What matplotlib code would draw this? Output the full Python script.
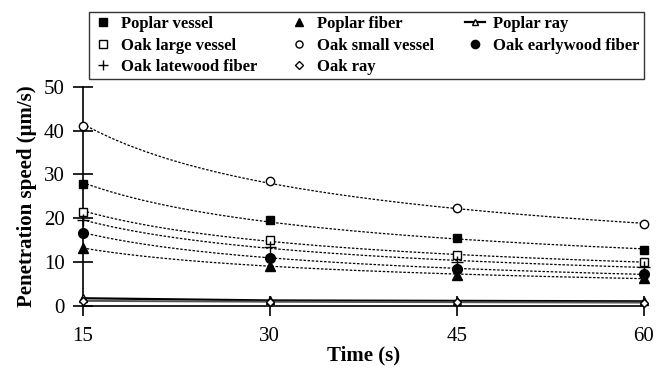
import matplotlib.pyplot as plt
import numpy as np
from matplotlib.lines import Line2D

plt.rcParams["font.family"] = ["Liberation Serif", "DejaVu Serif"]

time_s = np.array([15, 30, 45, 60])

poplar_vessel = [27.7, 19.6, 15.4, 12.7]
poplar_fiber = [13.2, 9.1, 7.0, 6.3]
poplar_ray = [1.7, 1.2, 1.1, 1.0]
oak_large_vessel = [21.5, 15.0, 11.6, 9.9]
oak_small_vessel = [41.1, 28.5, 22.2, 18.6]
oak_early_fiber = [16.7, 11.0, 8.4, 7.2]
oak_late_fiber = [19.6, 13.3, 10.0, 8.9]
oak_ray = [1.1, 0.9, 0.8, 0.7]

fig = plt.figure(figsize=(6.59, 3.78), dpi=100)
ax = fig.add_axes([0.1255, 0.1913, 0.8517, 0.5793])

# (label, values, marker, face, size)
series = [
    ("Poplar vessel", poplar_vessel, "s", "black", 6),
    ("Poplar fiber", poplar_fiber, "^", "black", 6.5),
    ("Oak large vessel", oak_large_vessel, "s", "white", 6),
    ("Oak small vessel", oak_small_vessel, "o", "white", 6),
    ("Oak earlywood fiber", oak_early_fiber, "o", "black", 7),
    ("Oak latewood fiber", oak_late_fiber, "+", "black", 9),
]

# power trend lines like a spreadsheet would draw
t_fine = np.linspace(15, 60, 200)
for label, vals, mk, fc, ms in series:
    b, loga = np.polyfit(np.log(time_s), np.log(vals), 1)
    ax.plot(t_fine, np.exp(loga) * t_fine ** b, color="black",
            linestyle=(0, (2, 1.3)), linewidth=0.9, zorder=2)

handles = {}
for label, vals, mk, fc, ms in series:
    (h,) = ax.plot(time_s, vals, linestyle="none", marker=mk, markersize=ms,
                   markerfacecolor=fc, markeredgecolor="black",
                   markeredgewidth=1.0, clip_on=False, zorder=4)
    handles[label] = h

(h,) = ax.plot(time_s, poplar_ray, color="black", linewidth=1.6, marker="^",
               markersize=5.5, markerfacecolor="white", markeredgecolor="black",
               clip_on=False, zorder=3)
handles["Poplar ray"] = h
ax.plot(time_s, oak_ray, color="#555555", linewidth=1.4, marker="D",
        markersize=4.5, markerfacecolor="white", markeredgecolor="black",
        clip_on=False, zorder=3)
handles["Oak ray"] = Line2D([], [], linestyle="none", marker="D", markersize=4.5,
                            markerfacecolor="white", markeredgecolor="black")

ax.set_xlim(15, 60)
ax.set_ylim(0, 50)
ax.set_xticks([15, 30, 45, 60])
ax.set_yticks([0, 10, 20, 30, 40, 50])
ax.spines["top"].set_visible(False)
ax.spines["right"].set_visible(False)
ax.spines["left"].set_linewidth(1.2)
ax.spines["bottom"].set_linewidth(1.2)
ax.tick_params(direction="inout", length=14, width=1.2, labelsize=15)
ax.tick_params(axis="x", pad=8)
ax.tick_params(axis="y", pad=6)

ax.set_xlabel("Time (s)", fontsize=15, fontweight="bold", labelpad=0)
ax.set_ylabel("Penetration speed (μm/s)", fontsize=15, fontweight="bold",
              labelpad=5)

# legend is filled column by column
order = ["Poplar vessel", "Oak large vessel", "Oak latewood fiber",
         "Poplar fiber", "Oak small vessel", "Oak ray",
         "Poplar ray", "Oak earlywood fiber"]
leg = fig.legend([handles[k] for k in order], order, ncol=3,
                 bbox_to_anchor=(0.135, 0.791, 0.842, 0.1825), loc="lower left",
                 mode="expand", frameon=True, fancybox=False, edgecolor="black",
                 prop={"weight": "bold", "size": 12}, handlelength=1.2,
                 handletextpad=0.5, labelspacing=0.32, borderaxespad=0,
                 borderpad=0.25, markerscale=0.85)
leg.get_frame().set_linewidth(1.0)

fig.savefig("out.png", dpi=100)
